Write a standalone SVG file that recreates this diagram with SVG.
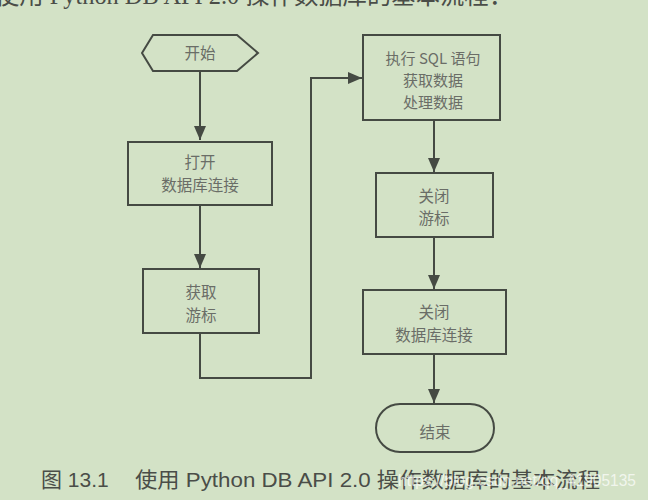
<svg xmlns="http://www.w3.org/2000/svg" width="648" height="500" viewBox="0 0 648 500">
<defs>
<style>
.bg{fill:#d3e2c6}
.shape{fill:none;stroke:#454a43;stroke-width:2}
.conn{fill:none;stroke:#454a43;stroke-width:2}
.lbl{font-family:"Noto Sans CJK SC","Liberation Serif",serif;font-size:15.5px;fill:#6a6d67;text-anchor:middle}
.sm{font-size:15px}
.cap{font-family:"Liberation Sans","Noto Sans CJK SC",sans-serif;font-size:21px;fill:#4a4d48}
.top{font-family:"Liberation Serif","Noto Sans CJK SC",serif;font-size:25px;fill:#4a4d48}
.wm{font-family:"Liberation Sans",sans-serif;font-size:17px;fill:#ffffff;fill-opacity:0.7}
</style>
<marker id="ah" markerWidth="14" markerHeight="12" refX="14" refY="6" orient="auto" markerUnits="userSpaceOnUse">
<path d="M0,0 L14,6 L0,12 z" fill="#454a43"/>
</marker>
</defs>
<rect class="bg" x="0" y="0" width="648" height="500"/>
<text class="top" x="-5" y="4" textLength="518" lengthAdjust="spacingAndGlyphs">使用 Python DB API 2.0 操作数据库的基本流程：</text>

<g id="connectors">
<path class="conn" d="M200,71 V140" marker-end="url(#ah)"/>
<path class="conn" d="M200,205 V268" marker-end="url(#ah)"/>
<path class="conn" d="M200,333 V378 H311 V78 H362" marker-end="url(#ah)"/>
<path class="conn" d="M434,120 V172" marker-end="url(#ah)"/>
<path class="conn" d="M434,237 V289" marker-end="url(#ah)"/>
<path class="conn" d="M434,354 V403" marker-end="url(#ah)"/>
</g>

<g id="start">
<polygon class="shape" points="142,53 153,35 237,35 258,53 237,71 153,71"/>
<text class="lbl" x="200" y="59">开始</text>
</g>
<g id="open-conn">
<rect class="shape" x="128" y="142" width="144" height="63"/>
<text class="lbl" x="200" y="168">打开</text>
<text class="lbl" x="200" y="191">数据库连接</text>
</g>
<g id="get-cursor">
<rect class="shape" x="143" y="269" width="116" height="64"/>
<text class="lbl" x="201" y="298">获取</text>
<text class="lbl" x="201" y="321">游标</text>
</g>
<g id="exec-sql">
<rect class="shape" x="363" y="35" width="137" height="85"/>
<text class="lbl sm" x="433" y="64">执行 SQL 语句</text>
<text class="lbl sm" x="433" y="86">获取数据</text>
<text class="lbl sm" x="433" y="108">处理数据</text>
</g>
<g id="close-cursor">
<rect class="shape" x="376" y="173" width="117" height="64"/>
<text class="lbl" x="434" y="202">关闭</text>
<text class="lbl" x="434" y="224">游标</text>
</g>
<g id="close-conn">
<rect class="shape" x="363" y="290" width="143" height="64"/>
<text class="lbl" x="434" y="318">关闭</text>
<text class="lbl" x="434" y="341">数据库连接</text>
</g>
<g id="end">
<rect class="shape" x="376" y="404" width="118" height="48" rx="24" ry="24"/>
<text class="lbl" x="435" y="438">结束</text>
</g>

<text class="cap" x="41" y="487">图 13.1</text>
<text class="cap" x="135" y="487" textLength="465" lengthAdjust="spacingAndGlyphs">使用 Python DB API 2.0 操作数据库的基本流程</text>
<text class="wm" x="398" y="486" textLength="238" lengthAdjust="spacingAndGlyphs">https://blog.csdn.net/qq_41905135</text>
</svg>
